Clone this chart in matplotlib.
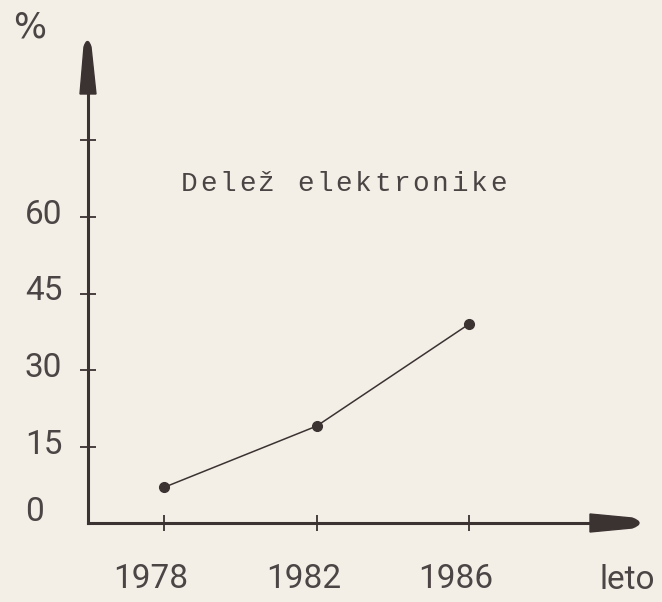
import matplotlib
matplotlib.use("Agg")
import matplotlib.pyplot as plt
from matplotlib.path import Path
from matplotlib.patches import PathPatch
import matplotlib.transforms as mtransforms

# ---- data ----
years = [1978, 1982, 1986]
share = [7, 19, 39]
year_labels = ["1978", "1982", "1986"]
y_ticks = [0, 15, 30, 45, 60, 75]
y_labels = ["0", "15", "30", "45", "60", ""]
title = "Delež elektronike"
x_name = "leto"
y_name = "%"

BG = "#f3efe6"
INK = "#3b3232"
TXT = "#4c4545"
W, H = 662, 602

fig = plt.figure(figsize=(W / 100, H / 100), dpi=100, facecolor=BG)
ax = fig.add_axes([88 / W, (H - 523) / H, (595 - 88) / W, (523 - 93) / H])
ax.set_facecolor("none")
ax.set_xlim(1976, 1976 + (595 - 88) / 38.1)
ax.set_ylim(0, (523 - 93) / 5.1)

for s in ["top", "right"]:
    ax.spines[s].set_visible(False)
for s in ["left", "bottom"]:
    ax.spines[s].set_linewidth(2.2)
    ax.spines[s].set_color(INK)
    ax.spines[s].set_capstyle("projecting")

ax.set_xticks(years)
ax.set_yticks([t for t in y_ticks if t > 0])
ax.tick_params(direction="inout", length=12, width=1.3, color=INK,
               labelleft=False, labelbottom=False)

ax.plot(years, share, color=INK, lw=1.1, marker="o", ms=7,
        markerfacecolor=INK, markeredgecolor=INK, clip_on=False, zorder=5)

FONT = ["Roboto", "DejaVu Sans"]
FW = "normal"
FS = 24
# y labels, left aligned
tr = mtransforms.blended_transform_factory(fig.transFigure, ax.transData)
for v, lab in zip(y_ticks, y_labels):
    if not lab:
        continue
    off = mtransforms.ScaledTranslation(0, 11 / 100 if v == 0 else 2 / 100, fig.dpi_scale_trans)
    ax.text(25 / W, v, lab, transform=tr + off, ha="left", va="center",
            fontsize=FS, color=TXT, family=FONT, fontweight=FW)

# x labels
for yr, lab in zip(years, year_labels):
    ax.text(yr - 0.35, -11, lab, ha="center", va="center", fontsize=FS,
            color=TXT, family=FONT, fontweight=FW, clip_on=False)

fig.text(627 / W, 1 - 580 / H, x_name, ha="center", va="center", fontsize=FS,
         color=TXT, family=FONT, fontweight=FW)
fig.text(30 / W, 1 - 27 / H, y_name, ha="center", va="center", fontsize=25,
         color=TXT, family=["DejaVu Sans"])

# typewriter title, spaced characters
x0 = 181
for i, ch in enumerate(title):
    fig.text((x0 + i * 19.3) / W, 1 - 184 / H, ch, ha="left", va="center",
             fontsize=20, color="#4a4444", family=["Liberation Mono", "DejaVu Sans Mono"])

# arrow heads (figure pixel coords -> fraction)
def P(x, y):
    return (x / W, 1 - y / H)

verts = [P(80, 94), P(84, 47), P(87.5, 36), P(91, 47), P(96, 94), P(80, 94)]
codes = [Path.MOVETO, Path.LINETO, Path.CURVE3, Path.CURVE3, Path.LINETO, Path.CLOSEPOLY]
fig.patches.append(PathPatch(Path(verts, codes), transform=fig.transFigure,
                             facecolor=INK, edgecolor=INK, lw=1))
verts = [P(590, 514), P(632, 518), P(646, 523), P(632, 528), P(590, 532), P(590, 514)]
fig.patches.append(PathPatch(Path(verts, codes), transform=fig.transFigure,
                             facecolor=INK, edgecolor=INK, lw=1))

fig.savefig("out.png", dpi=100, facecolor=BG)
